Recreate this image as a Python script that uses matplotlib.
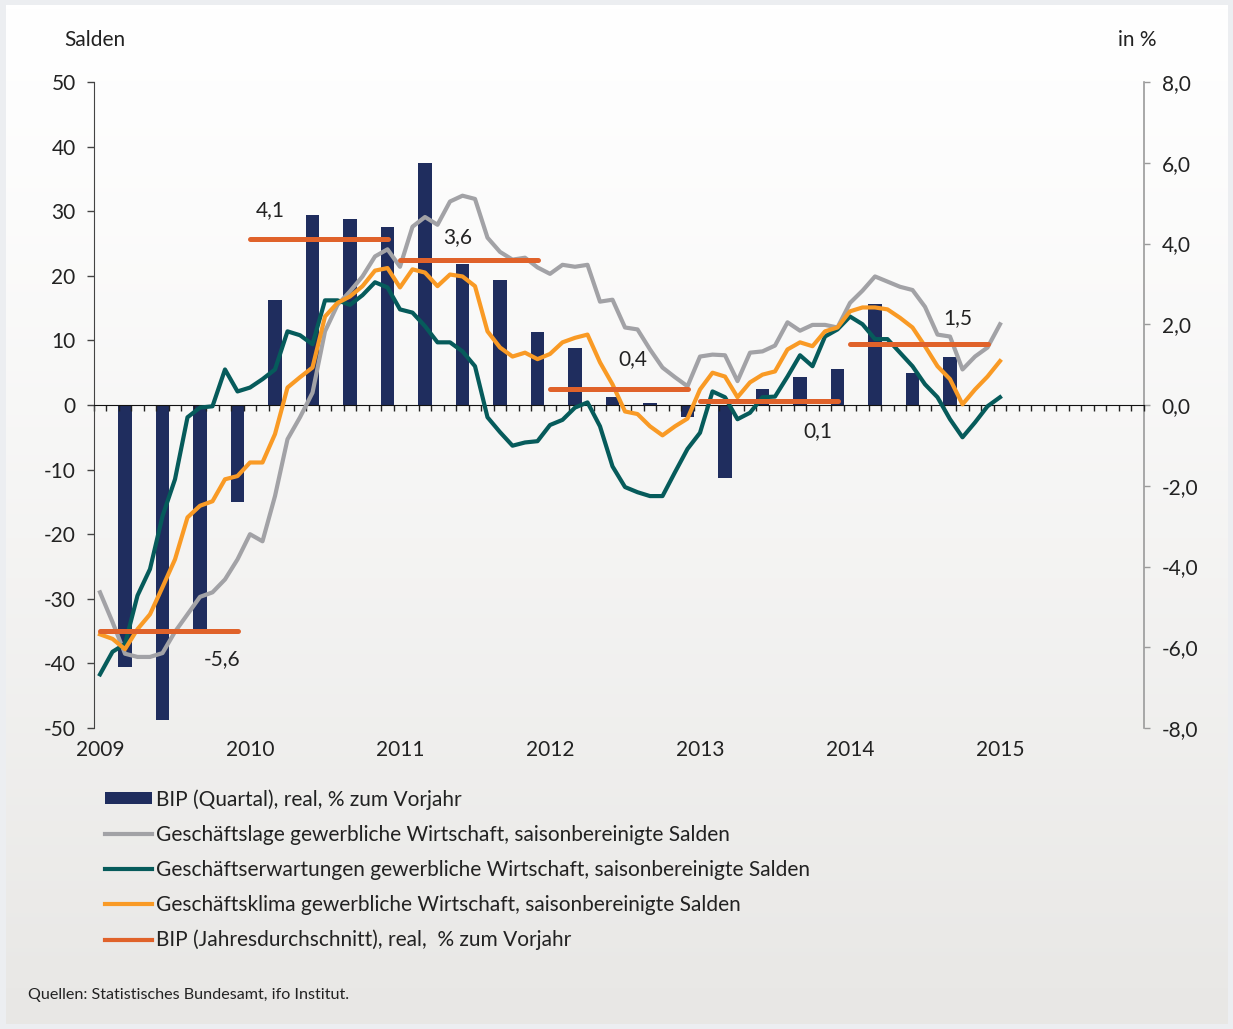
import matplotlib
matplotlib.use('Agg')
import matplotlib.pyplot as plt
from matplotlib.patches import Patch
from matplotlib.lines import Line2D
import numpy as np

plt.rcParams['font.family'] = ['Lato', 'DejaVu Sans']

# monthly ifo balances, Jan 2009 .. Jan 2015 (Salden)
lage = [-29.0, -33.6, -38.5, -39.0, -39.0, -38.4, -35.1, -32.4, -29.7, -29.0, -27.0, -23.9,
        -20.0, -21.1, -14.1, -5.3, -1.9, 1.9, 11.4, 15.5, 17.6, 19.9, 23.0, 24.1,
        21.4, 27.6, 29.1, 27.9, 31.5, 32.4, 31.9, 25.9, 23.7, 22.5, 22.8, 21.3,
        20.3, 21.7, 21.4, 21.7, 16.0, 16.3, 12.0, 11.7, 8.6, 5.8, 4.3, 2.9,
        7.5, 7.8, 7.7, 3.7, 8.1, 8.3, 9.2, 12.8, 11.5, 12.4, 12.4, 12.0,
        15.8, 17.7, 19.9, 19.1, 18.3, 17.8, 15.2, 10.9, 10.6, 5.5, 7.5, 8.9,
        12.5]
erwartungen = [-41.7, -38.2, -37.0, -29.5, -25.4, -17.2, -11.5, -1.9, -0.4, -0.2, 5.5, 2.1,
               2.7, 4.0, 5.5, 11.4, 10.8, 9.4, 16.2, 16.2, 15.5, 17.0, 19.0, 18.2,
               14.8, 14.3, 12.2, 9.7, 9.7, 8.3, 6.0, -1.9, -4.2, -6.3, -5.8, -5.6,
               -3.1, -2.3, -0.4, 0.4, -3.3, -9.5, -12.7, -13.5, -14.1, -14.1, -10.4, -6.8,
               -4.3, 2.1, 1.2, -2.2, -1.2, 1.2, 1.3, 4.4, 7.7, 6.0, 10.6, 11.7,
               13.7, 12.5, 10.2, 10.2, 8.1, 6.0, 3.2, 1.2, -2.2, -5.0, -2.7, -0.2,
               1.2]
klima = [-35.5, -36.2, -37.8, -34.7, -32.4, -28.2, -23.9, -17.4, -15.6, -14.9, -11.5, -11.0,
         -8.9, -8.9, -4.5, 2.7, 4.3, 5.8, 13.7, 15.8, 16.8, 18.4, 20.8, 21.2,
         18.2, 21.0, 20.5, 18.4, 20.2, 19.9, 18.4, 11.4, 8.9, 7.5, 8.1, 7.1,
         7.9, 9.7, 10.4, 10.9, 6.6, 3.2, -1.0, -1.4, -3.3, -4.7, -3.3, -2.1,
         2.4, 5.0, 4.4, 1.2, 3.5, 4.7, 5.2, 8.6, 9.7, 9.1, 11.4, 12.0,
         14.5, 15.1, 15.1, 14.8, 13.5, 12.0, 9.1, 6.0, 4.0, 0.1, 2.4, 4.4,
         6.8]

# quarterly GDP, real, % yoy (2009Q1 .. 2014Q3)
bip_quartal = [-6.5, -7.8, -5.6, -2.4, 2.6, 4.7, 4.6, 4.4, 6.0, 3.5, 3.1, 1.8,
               1.4, 0.2, 0.05, -0.3, -1.8, 0.4, 0.7, 0.9, 2.5, 0.8, 1.2]
# annual GDP average, real, % yoy
jahre = [2009, 2010, 2011, 2012, 2013, 2014]
bip_jahr = [-5.6, 4.1, 3.6, 0.4, 0.1, 1.5]
year_labels = ['2009', '2010', '2011', '2012', '2013', '2014', '2015']

navy = '#1f2d5e'
grey = '#a2a2a6'
teal = '#065b5b'
orange = '#f99a25'
red = '#e0622a'
txt = '#222222'
fs = 15

W, H = 1233, 1029
fig = plt.figure(figsize=(W / 100, H / 100), dpi=100, facecolor='#eceef1')

# panel with soft vertical gradient
bg = fig.add_axes([6 / W, 5 / H, (1228 - 6) / W, (1024 - 5) / H], zorder=-10)
g = np.linspace(0, 1, 256) ** 1.2
top = np.array([1.0, 1.0, 1.0])
bot = np.array([0.91, 0.906, 0.898])
grad = top[None, :] * (1 - g[:, None]) + bot[None, :] * g[:, None]
bg.imshow(grad[:, None, :], aspect='auto', extent=[0, 1, 0, 1], origin='upper')
bg.axis('off')

rect = [93.75 / W, 1 - 728 / H, 1050 / W, (728 - 82) / H]
ax2 = fig.add_axes(rect)              # percent axis: bars
ax = fig.add_axes(rect, sharex=ax2)   # Salden axis: survey lines
ax3 = fig.add_axes(rect, sharex=ax2)  # percent axis: annual averages
for a in (ax2, ax, ax3):
    a.patch.set_visible(False)
ax2.set_zorder(1)
ax.set_zorder(2)
ax3.set_zorder(3)

t = np.arange(len(lage))
bar_t = np.arange(len(bip_quartal)) * 3 + 2

ax2.bar(bar_t, bip_quartal, width=1.05, color=navy, zorder=2)
ax2.set_ylim(-8, 8)
ax2.set_xlim(-0.5, 83.5)
ax2.yaxis.tick_right()
pct_ticks = np.arange(-8, 9, 2)
ax2.set_yticks(pct_ticks, [f'{v:.1f}'.replace('.', ',') for v in pct_ticks])
ax2.tick_params(axis='y', direction='out', length=4, width=1, color='#9a9a9a',
                labelsize=fs, labelcolor=txt, pad=9)
ax2.tick_params(axis='x', length=0, labelbottom=False)
for s in ('left', 'top', 'bottom'):
    ax2.spines[s].set_visible(False)
ax2.spines['right'].set_color('#9a9a9a')
ax2.spines['right'].set_linewidth(1.2)

ax.plot(t, lage, color=grey, lw=3.0, solid_joinstyle='round', zorder=3)
ax.plot(t, erwartungen, color=teal, lw=3.0, solid_joinstyle='round', zorder=4)
ax.plot(t, klima, color=orange, lw=3.0, solid_joinstyle='round', zorder=5)
ax.set_ylim(-50, 50)
sal_ticks = np.arange(-50, 51, 10)
ax.set_yticks(sal_ticks, [str(v) for v in sal_ticks])
ax.tick_params(axis='y', direction='out', length=5, width=1, color='#444444',
               labelsize=fs, labelcolor=txt, pad=8)
ax.spines['left'].set_color('#444444')
ax.spines['top'].set_visible(False)
ax.spines['right'].set_visible(False)
ax.spines['bottom'].set_position(('data', 0))
ax.spines['bottom'].set_color('#111111')
ax.set_xticks(np.arange(-0.5, 84, 1))
ax.tick_params(axis='x', direction='out', length=4, width=1, color='#222222',
               labelbottom=False)

sec = ax.secondary_xaxis('bottom')
sec.set_xticks(np.arange(len(year_labels)) * 12, year_labels)
sec.tick_params(length=0, pad=9, labelsize=fs, labelcolor=txt)
sec.spines['bottom'].set_visible(False)

for i, (yr, v) in enumerate(zip(jahre, bip_jahr)):
    ax3.plot([12 * i, 12 * i + 11], [v, v], color=red, lw=3.6,
             solid_capstyle='round')
ax3.set_ylim(-8, 8)
ax3.axis('off')

label_pos = [(9.8, -39.3), (13.6, 30.2), (28.6, 26.0), (42.6, 7.1), (57.4, -4.1), (68.6, 13.5)]
for (lx, ly), v in zip(label_pos, bip_jahr):
    ax.text(lx, ly, f'{v:.1f}'.replace('.', ','), ha='center', va='center',
            fontsize=fs, color=txt, zorder=10)

fig.text(95 / W, 1 - 40 / H, 'Salden', ha='center', va='center', fontsize=fs, color=txt)
fig.text(1137 / W, 1 - 40 / H, 'in %', ha='center', va='center', fontsize=fs, color=txt)

handles = [Patch(facecolor=navy, edgecolor='none'),
           Line2D([], [], color=grey, lw=3.0),
           Line2D([], [], color=teal, lw=3.0),
           Line2D([], [], color=orange, lw=3.0),
           Line2D([], [], color=red, lw=3.0)]
labels = ['BIP (Quartal), real, % zum Vorjahr',
          'Geschäftslage gewerbliche Wirtschaft, saisonbereinigte Salden',
          'Geschäftserwartungen gewerbliche Wirtschaft, saisonbereinigte Salden',
          'Geschäftsklima gewerbliche Wirtschaft, saisonbereinigte Salden',
          'BIP (Jahresdurchschnitt), real,  % zum Vorjahr']
fig.legend(handles, labels, loc='upper left', bbox_to_anchor=(105 / W, 1 - 789 / H),
           frameon=False, fontsize=15.0, handlelength=2.25, handleheight=0.5,
           handletextpad=0.2, labelspacing=0.72, borderpad=0, borderaxespad=0,
           labelcolor=txt)

fig.text(28 / W, 1 - 995 / H, 'Quellen: Statistisches Bundesamt, ifo Institut.',
         ha='left', va='center', fontsize=11.6, color=txt)

fig.savefig('out.png', dpi=100, facecolor=fig.get_facecolor())
